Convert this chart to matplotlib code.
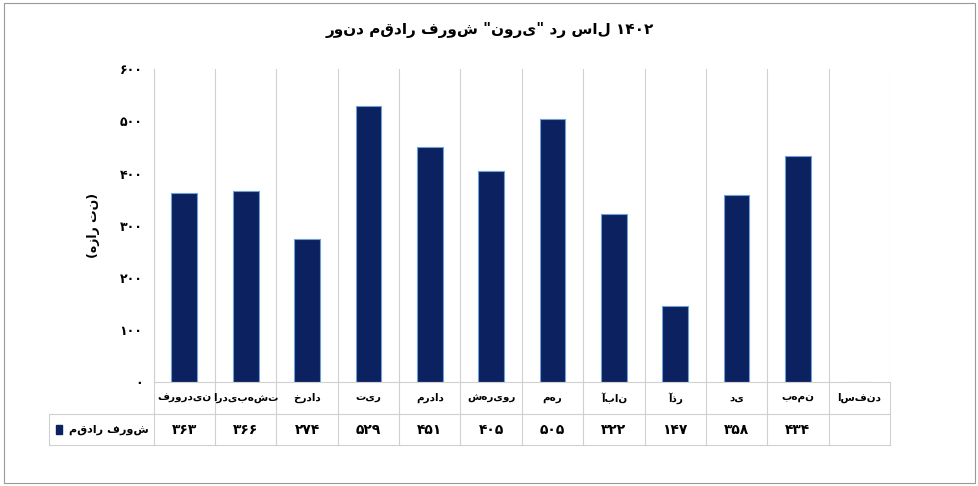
import matplotlib
matplotlib.use("Agg")
import matplotlib.pyplot as plt
import matplotlib.transforms as mtransforms
from matplotlib.lines import Line2D
from matplotlib.patches import Rectangle

months = ["فروردین", "اردیبهشت", "خرداد", "تیر", "مرداد", "شهریور", "مهر", "آبان", "آذر", "دی", "بهمن", "اسفند"]
sales = [363, 366, 274, 529, 451, 405, 505, 322, 147, 358, 434, None]
yticks = [0, 100, 200, 300, 400, 500, 600]
title = 'روند مقدار فروش "نوری" در سال ۱۴۰۲'
ylabel = "(هزار تن)"
series_name = "مقدار فروش"

def fa(n):
    return str(n).translate(str.maketrans("0123456789", "۰۱۲۳۴۵۶۷۸۹"))

plt.rcParams['font.family'] = ['DejaVu Sans']
fig = plt.figure(figsize=(9.79, 4.86), dpi=100)
fig.patches.append(Rectangle((0.004, 0.006), 0.992, 0.988, transform=fig.transFigure,
                             fill=False, edgecolor="#999999", lw=0.8))
ax = fig.add_axes([0.157, 0.213, 0.752, 0.645])
n = len(months)
xs = list(range(n))
vals = [v if v is not None else 0 for v in sales]
ax.bar(xs, vals, width=0.42, color="#0b2160", edgecolor="#6fa0d8", lw=0.8)
ax.set_xlim(-0.5, n - 0.5)
ax.set_ylim(0, 600)
ax.set_yticks(yticks)
ax.set_yticklabels([fa(t) for t in yticks], fontsize=9, fontweight="bold")
ax.set_xticks([])
for i in range(n + 1):
    ax.axvline(i - 0.5, color="#d0d0d0", lw=0.8, zorder=0)
for s in ["top", "right"]:
    ax.spines[s].set_visible(False)
ax.spines["left"].set_color("#d0d0d0")
ax.spines["bottom"].set_color("#d0d0d0")
ax.tick_params(axis="y", length=0, pad=8)
ax.set_ylabel(ylabel, fontsize=9, fontweight="bold", labelpad=14)
fig.text(0.5, 0.93, title, ha="center", fontsize=11, fontweight="bold")

# data table
tr = mtransforms.blended_transform_factory(ax.transData, ax.transAxes)
row1, row2, bottom = -0.05, -0.15, -0.2
for i, (m, v) in enumerate(zip(months, sales)):
    ax.text(i, row1, m, transform=tr, ha="center", va="center", fontsize=7.5, fontweight="bold", clip_on=False)
    if v is not None:
        ax.text(i, row2, fa(v), transform=tr, ha="center", va="center", fontsize=10, fontweight="bold", clip_on=False)
for i in range(n + 1):
    ax.add_line(Line2D([i - 0.5, i - 0.5], [0, bottom], transform=tr, color="#d0d0d0", lw=0.8, clip_on=False))
ax.add_line(Line2D([-0.5, n - 0.5], [-0.1, -0.1], transform=tr, color="#d0d0d0", lw=0.8, clip_on=False))
ax.add_line(Line2D([-2.2, n - 0.5], [bottom, bottom], transform=tr, color="#d0d0d0", lw=0.8, clip_on=False))
ax.add_line(Line2D([-2.2, -0.5], [-0.1, -0.1], transform=tr, color="#d0d0d0", lw=0.8, clip_on=False))
ax.add_line(Line2D([-2.2, -2.2], [-0.1, bottom], transform=tr, color="#d0d0d0", lw=0.8, clip_on=False))
ax.add_patch(Rectangle((-2.1, -0.165), 0.1, 0.03, transform=tr, color="#0b2160", clip_on=False))
ax.text(-0.58, row2, series_name, transform=tr, ha="right", va="center", fontsize=8, fontweight="bold", clip_on=False)
fig.savefig("out.png", dpi=100)
